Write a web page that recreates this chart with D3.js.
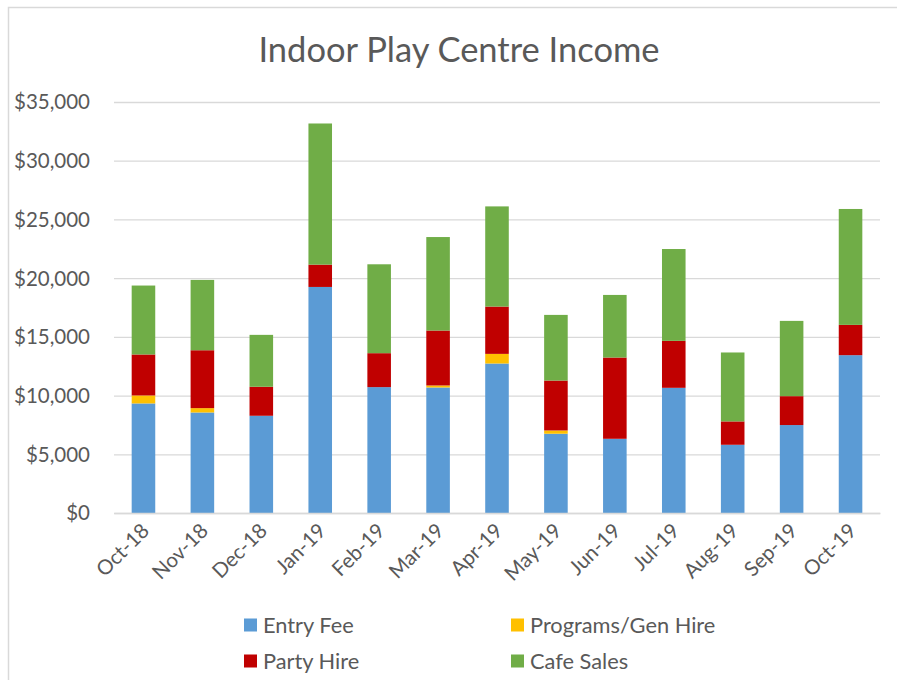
<!DOCTYPE html>
<html>
<head>
<meta charset="utf-8">
<title>Indoor Play Centre Income</title>
<script src="https://cdn.jsdelivr.net/npm/d3@7"></script>
<style>
  body { margin: 0; background: #fff; }
  text { font-family: Lato, "Open Sans", sans-serif; fill: #595959; }
  .title { font-size: 34.5px; }
  .tick text { font-size: 20.5px; }
  .legend text { font-size: 21.8px; }
</style>
</head>
<body>
<script>
// months along the x axis
var months = ["Oct-18","Nov-18","Dec-18","Jan-19","Feb-19","Mar-19","Apr-19",
              "May-19","Jun-19","Jul-19","Aug-19","Sep-19","Oct-19"];
var seriesNames = ["Entry Fee","Programs/Gen Hire","Party Hire","Cafe Sales"];
var seriesColors = ["#5b9bd5","#ffc000","#c00000","#70ad47"];

// values (dollars)
var entryFee   = [9330, 8560, 8280, 19250, 10720, 10690, 12730, 6750, 6320, 10660, 5810, 7490, 13440];
var programs   = [ 680,  370,    0,     0,     0,   170,   820,  280,    0,     0,    0,    0,     0];
var partyHire  = [3490, 4930, 2470,  1900,  2890,  4680,  4030, 4250, 6920,  4000, 1990, 2460,  2580];
var cafeSales  = [5870, 5990, 4420, 12020,  7570,  7960,  8530, 5590, 5330,  7820, 5870, 6410,  9870];
var yTicks = [0, 5000, 10000, 15000, 20000, 25000, 30000, 35000];

var width = 897, height = 680;
var margin = {left: 114, right: 17, top: 102, bottom: 167};

var rows = months.map(function(m, i) {
  return {month: m, "Entry Fee": entryFee[i], "Programs/Gen Hire": programs[i],
          "Party Hire": partyHire[i], "Cafe Sales": cafeSales[i]};
});
var stacked = d3.stack().keys(seriesNames)(rows);

var svg = d3.select("body").append("svg")
  .attr("width", width).attr("height", height);

// chart area border (cropped on right/bottom)
svg.append("rect")
  .attr("x", 8.5).attr("y", 7.5)
  .attr("width", width + 10).attr("height", height + 10)
  .attr("fill", "none").attr("stroke", "#d9d9d9").attr("stroke-width", 1.5);

svg.append("text").attr("class", "title")
  .attr("x", 459).attr("y", 62)
  .attr("text-anchor", "middle")
  .text("Indoor Play Centre Income");

var x = d3.scaleBand().domain(months)
  .range([margin.left, width - margin.right])
  .paddingInner(0.6).paddingOuter(0.3);

var y = d3.scaleLinear().domain([0, 35000])
  .range([height - margin.bottom, margin.top]);

// gridlines + y labels
var yAxis = svg.append("g")
  .attr("transform", "translate(" + margin.left + ",0)")
  .call(d3.axisLeft(y).tickValues(yTicks)
    .tickSize(-(width - margin.left - margin.right))
    .tickPadding(24)
    .tickFormat(function(d) { return "$" + d3.format(",")(d); }));
yAxis.select(".domain").remove();
yAxis.selectAll(".tick line").attr("stroke", "#d9d9d9").attr("stroke-width", 1.3);
yAxis.selectAll(".tick text").attr("dy", "0.34em");

// bars
svg.append("g").selectAll("g").data(stacked).join("g")
  .attr("fill", function(d, i) { return seriesColors[i]; })
  .selectAll("rect").data(function(d) { return d; }).join("rect")
  .attr("x", function(d) { return x(d.data.month); })
  .attr("width", x.bandwidth())
  .attr("y", function(d) { return y(d[1]); })
  .attr("height", function(d) { return y(d[0]) - y(d[1]); });

// x axis
var xAxis = svg.append("g")
  .attr("transform", "translate(0," + (height - margin.bottom) + ")")
  .call(d3.axisBottom(x).tickSize(0).tickPadding(0));
xAxis.select(".domain").attr("stroke", "#d9d9d9").attr("stroke-width", 1.3);
xAxis.selectAll(".tick text")
  .attr("text-anchor", "end")
  .attr("dy", 0)
  .attr("transform", "translate(7,19) rotate(-45)");

// legend
var legend = svg.append("g").attr("class", "legend");
var legendPos = [[244, 625], [511, 625], [244, 661], [511, 661]];
seriesNames.forEach(function(name, i) {
  var g = legend.append("g")
    .attr("transform", "translate(" + legendPos[i][0] + "," + legendPos[i][1] + ")");
  g.append("rect").attr("x", 0).attr("y", -6.5).attr("width", 13).attr("height", 13)
    .attr("fill", seriesColors[i]);
  g.append("text").attr("x", 19).attr("y", 0).attr("dy", "0.35em").text(name);
});
</script>
</body>
</html>
